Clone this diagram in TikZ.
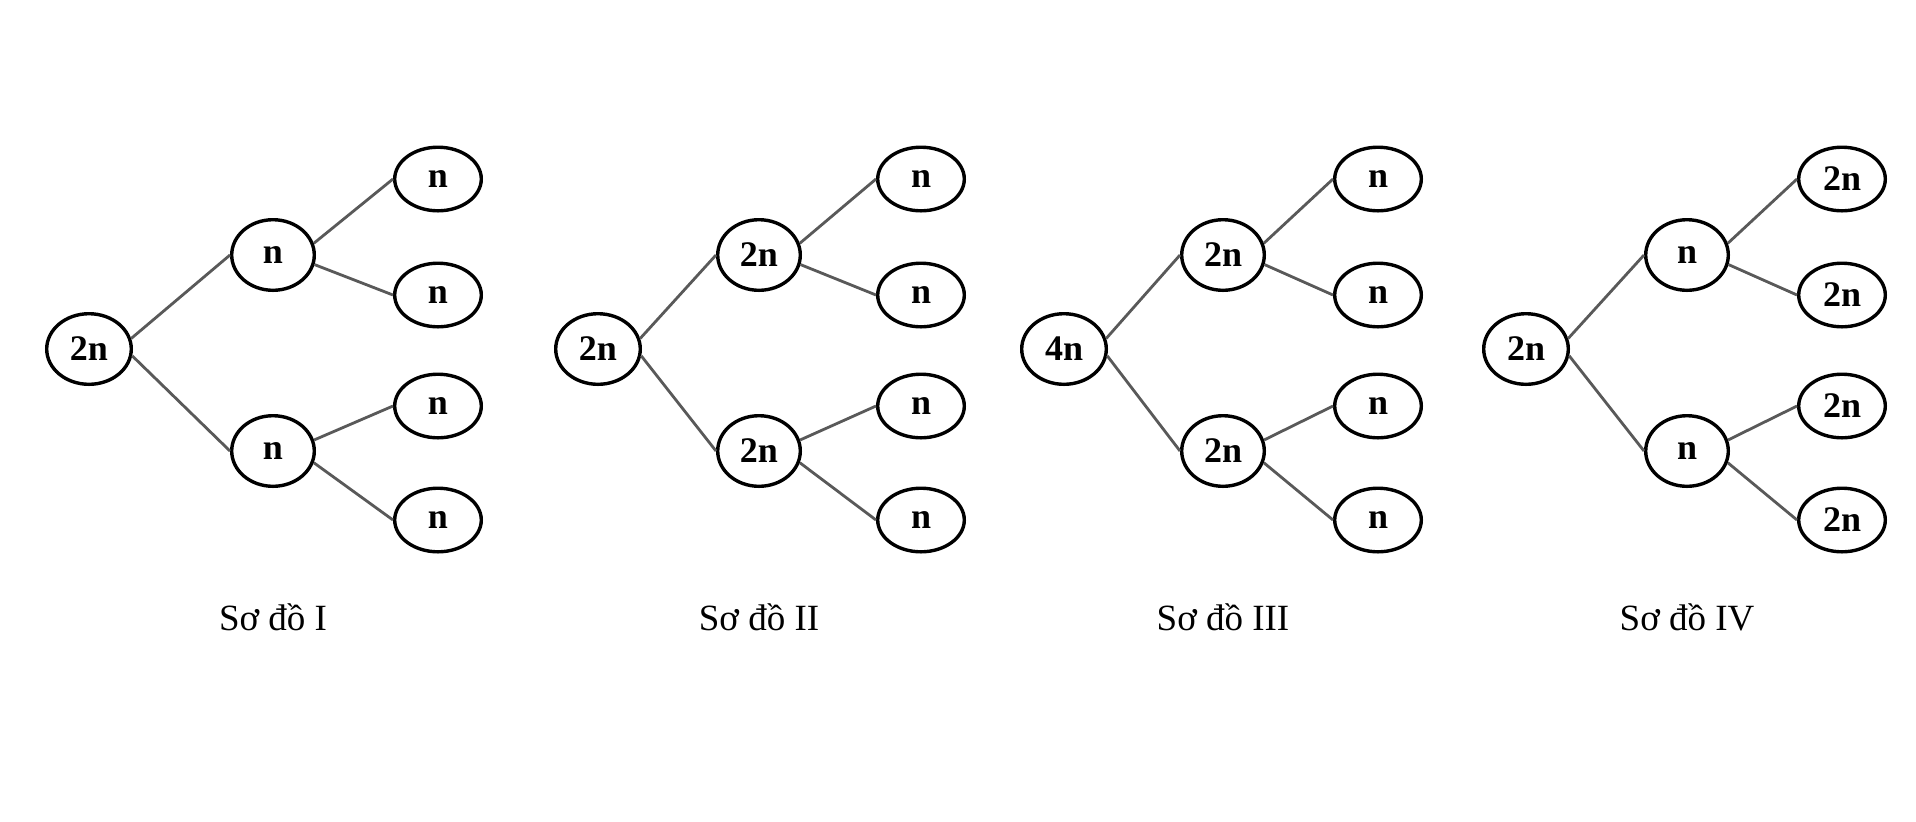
\documentclass[tikz,border=0pt]{standalone}
\usepackage{fontspec}
\setmainfont{Liberation Serif}
\usetikzlibrary{shapes.geometric}
\tikzset{
  rootnode/.style={ellipse,draw=black,line width=1.7pt,inner sep=0pt,minimum width=42.3pt,minimum height=35.3pt,font=\fontsize{18}{20}\selectfont\bfseries},
  midnode/.style={ellipse,draw=black,line width=1.7pt,inner sep=0pt,minimum width=41.3pt,minimum height=35.3pt,font=\fontsize{18}{20}\selectfont\bfseries},
  leafnode/.style={ellipse,draw=black,line width=1.7pt,inner sep=0pt,minimum width=43.3pt,minimum height=31.8pt,font=\fontsize{18}{20}\selectfont\bfseries},
  link/.style={draw=black!65,line width=1.4pt},
  caption/.style={anchor=base,font=\fontsize{18.5}{22}\selectfont}
}
\newcommand{\drawtree}[8]{%
  \node[rootnode] (#1r) at (#2,349) {#5};
  \node[midnode] (#1a) at (#3,255) {#6};
  \node[midnode] (#1b) at (#3,451) {#6};
  \node[leafnode] (#1l1) at (#4,179) {#7};
  \node[leafnode] (#1l2) at (#4,295) {#7};
  \node[leafnode] (#1l3) at (#4,406) {#7};
  \node[leafnode] (#1l4) at (#4,520) {#7};
  \draw[link] (#1r.14) -- (#1a.west);
  \draw[link] (#1r.-9) -- (#1b.west);
  \draw[link] (#1a.16) -- (#1l1.west);
  \draw[link] (#1a.-13) -- (#1l2.west);
  \draw[link] (#1b.15) -- (#1l3.west);
  \draw[link] (#1b.-16) -- (#1l4.west);
  \node[caption] (#1c) at (#3,630) {#8};
}
\begin{document}
\begin{tikzpicture}[x=0.5pt,y=-0.5pt]
\fill[white] (0,0) rectangle (1916,821);
\useasboundingbox (0,0) rectangle (1916,821);
\drawtree{t1}{89}{273}{438}{2n}{n}{n}{Sơ đồ I}
\drawtree{t2}{598}{759}{921}{2n}{2n}{n}{Sơ đồ II}
\drawtree{t3}{1064}{1223}{1378}{4n}{2n}{n}{Sơ đồ III}
\drawtree{t4}{1526}{1687}{1842}{2n}{n}{2n}{Sơ đồ IV}
\end{tikzpicture}
\end{document}
